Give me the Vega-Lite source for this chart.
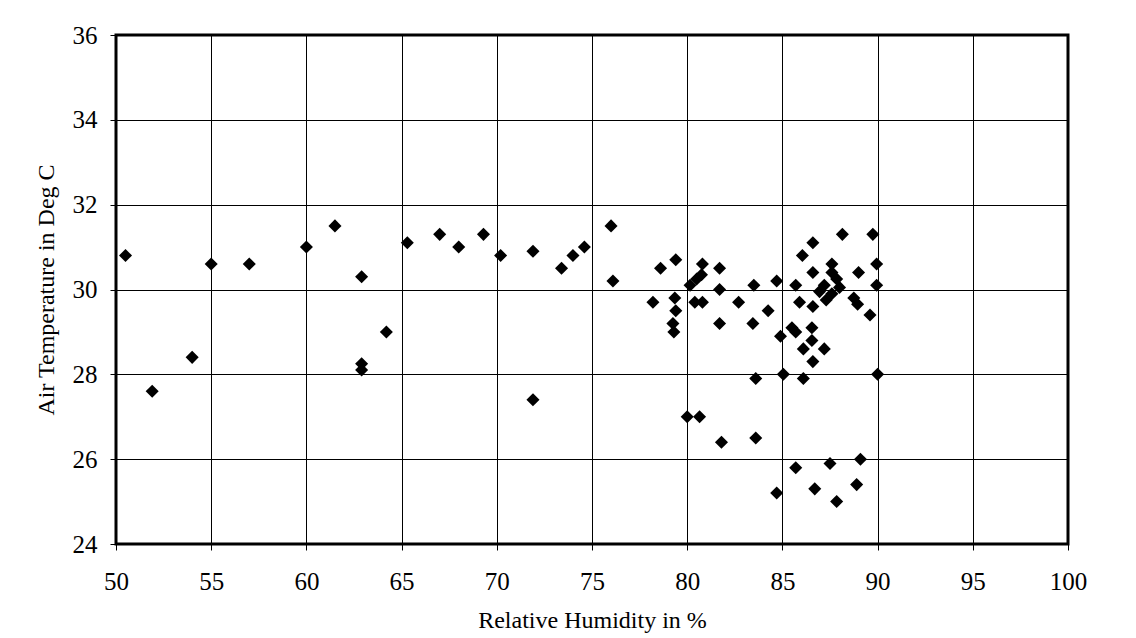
{
  "$schema": "https://vega.github.io/schema/vega-lite/v6.json",
  "width": 952,
  "height": 509,
  "autosize": {"type": "none"},
  "padding": {"left": 116, "top": 35, "right": 68, "bottom": 94},
  "background": "white",
  "data": {
    "values": [
      {"rh": 50.5, "temp": 30.8}, {"rh": 51.9, "temp": 27.6}, {"rh": 54.0, "temp": 28.4},
      {"rh": 55.0, "temp": 30.6}, {"rh": 57.0, "temp": 30.6}, {"rh": 60.0, "temp": 31.0},
      {"rh": 61.5, "temp": 31.5}, {"rh": 62.9, "temp": 30.3}, {"rh": 62.9, "temp": 28.25},
      {"rh": 62.9, "temp": 28.1}, {"rh": 64.2, "temp": 29.0}, {"rh": 65.3, "temp": 31.1},
      {"rh": 67.0, "temp": 31.3}, {"rh": 68.0, "temp": 31.0}, {"rh": 69.3, "temp": 31.3},
      {"rh": 70.2, "temp": 30.8}, {"rh": 71.9, "temp": 30.9}, {"rh": 71.9, "temp": 27.4},
      {"rh": 73.4, "temp": 30.5}, {"rh": 74.0, "temp": 30.8}, {"rh": 74.6, "temp": 31.0},
      {"rh": 76.0, "temp": 31.5}, {"rh": 76.1, "temp": 30.2},
      {"rh": 78.2, "temp": 29.7}, {"rh": 78.6, "temp": 30.5}, {"rh": 79.4, "temp": 30.7},
      {"rh": 79.35, "temp": 29.8}, {"rh": 79.4, "temp": 29.5}, {"rh": 79.25, "temp": 29.2},
      {"rh": 79.3, "temp": 29.0}, {"rh": 80.15, "temp": 30.1}, {"rh": 80.5, "temp": 30.25},
      {"rh": 80.75, "temp": 30.35}, {"rh": 80.8, "temp": 30.6}, {"rh": 80.4, "temp": 29.7},
      {"rh": 80.8, "temp": 29.7}, {"rh": 81.7, "temp": 30.5}, {"rh": 81.7, "temp": 30.0},
      {"rh": 81.7, "temp": 29.2}, {"rh": 82.7, "temp": 29.7}, {"rh": 83.5, "temp": 30.1},
      {"rh": 83.45, "temp": 29.2}, {"rh": 84.25, "temp": 29.5}, {"rh": 83.6, "temp": 27.9},
      {"rh": 80.0, "temp": 27.0}, {"rh": 80.65, "temp": 27.0}, {"rh": 81.8, "temp": 26.4},
      {"rh": 83.6, "temp": 26.5},
      {"rh": 84.7, "temp": 30.2}, {"rh": 85.7, "temp": 30.1}, {"rh": 86.05, "temp": 30.8},
      {"rh": 86.6, "temp": 31.1}, {"rh": 86.6, "temp": 30.4}, {"rh": 85.9, "temp": 29.7},
      {"rh": 86.6, "temp": 29.6}, {"rh": 85.5, "temp": 29.1}, {"rh": 85.7, "temp": 29.0},
      {"rh": 86.55, "temp": 29.1}, {"rh": 84.9, "temp": 28.9}, {"rh": 86.55, "temp": 28.8},
      {"rh": 86.1, "temp": 28.6}, {"rh": 87.2, "temp": 28.6}, {"rh": 86.6, "temp": 28.3},
      {"rh": 85.05, "temp": 28.0}, {"rh": 86.1, "temp": 27.9}, {"rh": 90.0, "temp": 28.0},
      {"rh": 88.15, "temp": 31.3}, {"rh": 89.75, "temp": 31.3}, {"rh": 87.6, "temp": 30.6},
      {"rh": 89.95, "temp": 30.6}, {"rh": 89.0, "temp": 30.4}, {"rh": 87.6, "temp": 30.4},
      {"rh": 87.85, "temp": 30.25}, {"rh": 87.2, "temp": 30.1}, {"rh": 86.95, "temp": 29.95},
      {"rh": 87.6, "temp": 29.9}, {"rh": 88.0, "temp": 30.05}, {"rh": 87.3, "temp": 29.75},
      {"rh": 89.95, "temp": 30.1}, {"rh": 88.75, "temp": 29.8}, {"rh": 88.95, "temp": 29.65},
      {"rh": 89.6, "temp": 29.4},
      {"rh": 85.7, "temp": 25.8}, {"rh": 87.5, "temp": 25.9}, {"rh": 89.1, "temp": 26.0},
      {"rh": 84.7, "temp": 25.2}, {"rh": 86.7, "temp": 25.3}, {"rh": 88.9, "temp": 25.4},
      {"rh": 87.85, "temp": 25.0}
    ]
  },
  "mark": {"type": "point", "shape": "diamond", "filled": true, "color": "black", "opacity": 1, "size": 170},
  "encoding": {
    "x": {
      "field": "rh",
      "type": "quantitative",
      "scale": {"domain": [50, 100], "nice": false, "zero": false},
      "axis": {
        "title": "Relative Humidity in %",
        "values": [50, 55, 60, 65, 70, 75, 80, 85, 90, 95, 100],
        "labelPadding": 19,
        "titlePadding": 14
      }
    },
    "y": {
      "field": "temp",
      "type": "quantitative",
      "scale": {"domain": [24, 36], "nice": false, "zero": false},
      "axis": {
        "title": "Air Temperature in Deg C",
        "values": [24, 26, 28, 30, 32, 34, 36],
        "labelPadding": 13,
        "titlePadding": 14
      }
    }
  },
  "config": {
    "font": "Liberation Serif",
    "view": {"stroke": "black", "strokeWidth": 3},
    "axis": {
      "grid": true,
      "gridColor": "black",
      "gridOpacity": 1,
      "gridWidth": 1,
      "domain": false,
      "tickColor": "black",
      "tickSize": 6,
      "tickWidth": 1,
      "labelFont": "Liberation Serif",
      "labelFontSize": 25,
      "labelColor": "black",
      "labelFlush": false,
      "labelOverlap": false,
      "titleFont": "Liberation Serif",
      "titleFontSize": 24,
      "titleFontWeight": "normal",
      "titleColor": "black"
    }
  }
}
